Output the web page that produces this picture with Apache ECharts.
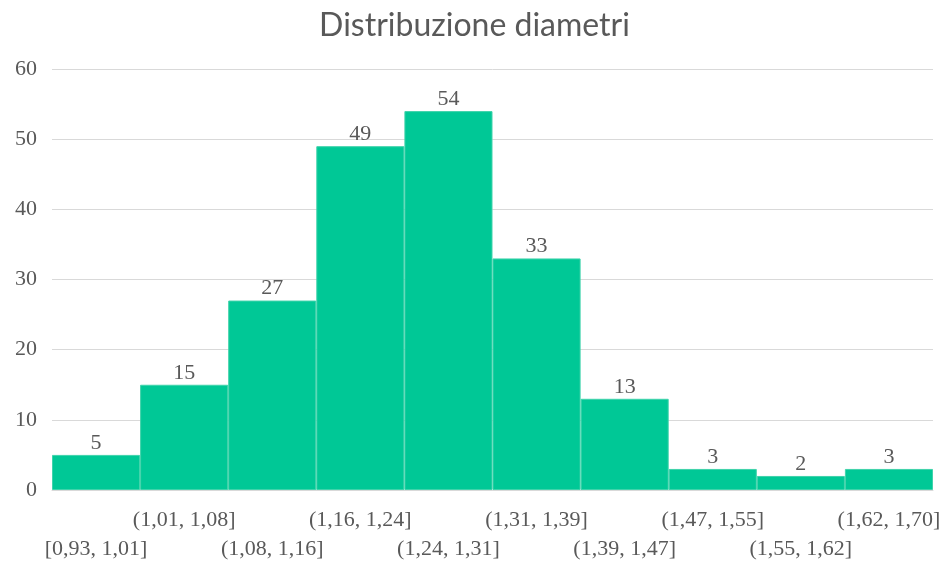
<!DOCTYPE html>
<html>
<head>
<meta charset="utf-8">
<script src="https://cdn.jsdelivr.net/npm/echarts@6/dist/echarts.min.js"></script>
<style>
  html, body { margin: 0; padding: 0; background: #fff; }
  #chart { width: 949px; height: 567px; }
</style>
</head>
<body>
<div id="chart"></div>
<script>
// Diameter classes and their counts
const classes = [
  '[0,93, 1,01]', '(1,01, 1,08]', '(1,08, 1,16]', '(1,16, 1,24]', '(1,24, 1,31]',
  '(1,31, 1,39]', '(1,39, 1,47]', '(1,47, 1,55]', '(1,55, 1,62]', '(1,62, 1,70]'
];
const counts = [5, 15, 27, 49, 54, 33, 13, 3, 2, 3];
const yTicks = { min: 0, max: 60, interval: 10 };

const textColor = '#595959';
const serif = '"Liberation Serif", "DejaVu Serif", serif';

const chart = echarts.init(document.getElementById('chart'), null, { renderer: 'canvas' });
chart.setOption({
  animation: false,
  title: {
    text: 'Distribuzione diametri',
    left: 'center',
    top: 5,
    textStyle: { fontFamily: 'Lato, "Open Sans", sans-serif', fontWeight: 'normal', fontSize: 32, color: textColor }
  },
  grid: { left: 52, right: 16, top: 69, bottom: 77, containLabel: false },
  xAxis: {
    type: 'category',
    data: classes,
    axisTick: { show: false },
    axisLine: { show: true, lineStyle: { color: '#d9d9d9' } },
    axisLabel: {
      interval: 0,
      hideOverlap: false,
      margin: 16,
      lineHeight: 29,
      fontFamily: serif,
      fontSize: 22,
      color: textColor,
      formatter: (v, i) => (i % 2 === 1 ? v : '\n' + v)
    }
  },
  yAxis: {
    type: 'value',
    min: yTicks.min,
    max: yTicks.max,
    interval: yTicks.interval,
    axisLine: { show: false },
    axisTick: { show: false },
    splitLine: { lineStyle: { color: '#d9d9d9', width: 1 } },
    axisLabel: { margin: 15, fontFamily: serif, fontSize: 22, color: textColor }
  },
  series: [{
    type: 'bar',
    data: counts,
    barCategoryGap: '0%',
    itemStyle: { color: '#00C896', borderColor: '#3fd3ab', borderWidth: 1 },
    label: {
      show: true,
      position: 'top',
      distance: 1,
      fontFamily: serif,
      fontSize: 22,
      color: textColor
    }
  }]
});
</script>
</body>
</html>
